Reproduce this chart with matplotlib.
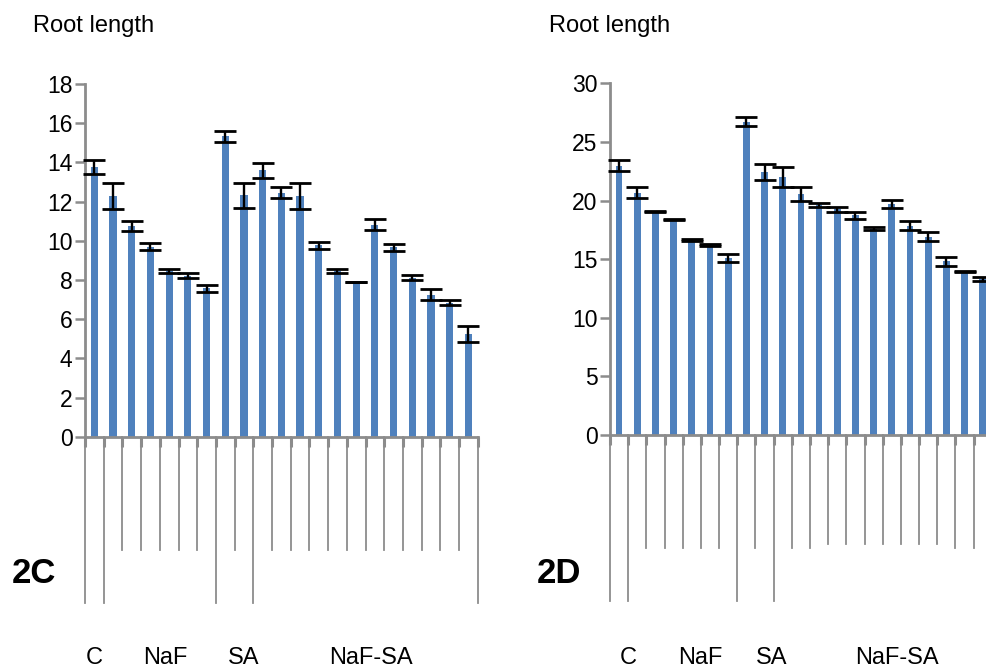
import numpy as np
import matplotlib
matplotlib.use('Agg')
import matplotlib.pyplot as plt
import matplotlib.transforms as mtransforms

plt.rcParams['font.family'] = ['Liberation Sans', 'DejaVu Sans']

# ---- data ----
vals_c = [13.78, 12.28, 10.75, 9.70, 8.47, 8.22, 7.57, 15.33, 12.32, 13.60, 12.45,
          12.28, 9.77, 8.45, 7.89, 10.82, 9.66, 8.12, 7.24, 6.84, 5.26]
err_c = [0.35, 0.65, 0.24, 0.18, 0.10, 0.12, 0.17, 0.27, 0.63, 0.39, 0.28,
         0.65, 0.17, 0.11, 0.02, 0.29, 0.18, 0.11, 0.28, 0.14, 0.41]

vals_d = [22.95, 20.67, 19.05, 18.38, 16.62, 16.22, 15.10, 26.74, 22.40, 22.02, 20.57,
          19.62, 19.25, 18.75, 17.60, 19.70, 17.87, 16.90, 14.80, 13.93, 13.30]
err_d = [0.47, 0.48, 0.03, 0.08, 0.10, 0.08, 0.31, 0.38, 0.68, 0.87, 0.58,
         0.20, 0.20, 0.30, 0.10, 0.31, 0.38, 0.38, 0.38, 0.06, 0.15]

groups = ['C', 'NaF', 'SA', 'NaF-SA']
title = 'Root length'

# ---- style ----
W, H = 986, 669
bar_col = '#4F81BD'
ax_col = '#8C8C8C'

fig = plt.figure(figsize=(W / 100, H / 100), dpi=100)


def px_box(x0, x1, ytop, ybot):
    return [x0 / W, (H - ybot) / H, (x1 - x0) / W, (ybot - ytop) / H]


def draw_panel(rect, vals, errs, ymax, ystep, long_b, mid_b, mid_len, label_x, bar_w):
    ax = fig.add_axes(rect)
    n = len(vals)
    x = np.arange(n) + 0.5
    ax.bar(x, vals, width=bar_w, color=bar_col, zorder=2)
    ax.errorbar(x, vals, yerr=errs, fmt='none', ecolor='black', elinewidth=1.7,
                capsize=8, capthick=2.0, zorder=3, clip_on=False)
    ax.set_xlim(0, n)
    ax.set_ylim(0, ymax)
    ax.set_yticks(np.arange(0, ymax + 0.1, ystep))
    ax.set_xticks(np.arange(n + 1))
    ax.set_xticklabels([])
    for s in ['top', 'right']:
        ax.spines[s].set_visible(False)
    for s in ['left', 'bottom']:
        ax.spines[s].set_color(ax_col)
        ax.spines[s].set_linewidth(2)
    ax.tick_params(axis='y', length=7, width=1.8, color=ax_col, labelsize=16.5, pad=2)
    ax.tick_params(axis='x', length=7, width=2.2, color=ax_col)

    # hanging category lines below the axis
    tr = mtransforms.blended_transform_factory(ax.transData, ax.transAxes)
    for b in range(n + 1):
        if b in long_b:
            y1 = -0.471
        elif b in mid_b:
            y1 = mid_len
        else:
            y1 = -0.321
        ax.plot([b, b], [0, y1], color=ax_col, lw=1.3, transform=tr, clip_on=False)

    # group labels along the bottom edge
    tr_lab = mtransforms.blended_transform_factory(ax.transData, fig.transFigure)
    for g, gx in zip(groups, label_x):
        ax.text(gx, 4.5 / H, g, transform=tr_lab, ha='center', va='baseline', fontsize=17)
    return ax


# panel 2C
draw_panel(px_box(85, 477.7, 84, 436.7), vals_c, err_c, 18, 2,
           long_b=[0, 1, 7, 9, 21], mid_b=[], mid_len=-0.321,
           label_x=[0.5, 4.28, 8.5, 15.27], bar_w=0.39)
fig.text(32.7 / W, (H - 31.7) / H, title, fontsize=17, va='baseline', ha='left')
fig.text(12 / W, (H - 583) / H, '2C', fontsize=25, fontweight='bold', va='baseline', ha='left')

# panel 2D (runs past the right edge, as in the original)
draw_panel(px_box(610, 610 + 21 * 18.18, 83.3, 435), vals_d, err_d, 30, 5,
           long_b=[0, 1, 7, 9, 21], mid_b=list(range(12, 19)), mid_len=-0.309,
           label_x=[0.99, 4.95, 8.9, 15.8], bar_w=0.37)
fig.text(549 / W, (H - 31.7) / H, title, fontsize=17, va='baseline', ha='left')
fig.text(537 / W, (H - 583) / H, '2D', fontsize=25, fontweight='bold', va='baseline', ha='left')

fig.savefig('out.png', dpi=100)
